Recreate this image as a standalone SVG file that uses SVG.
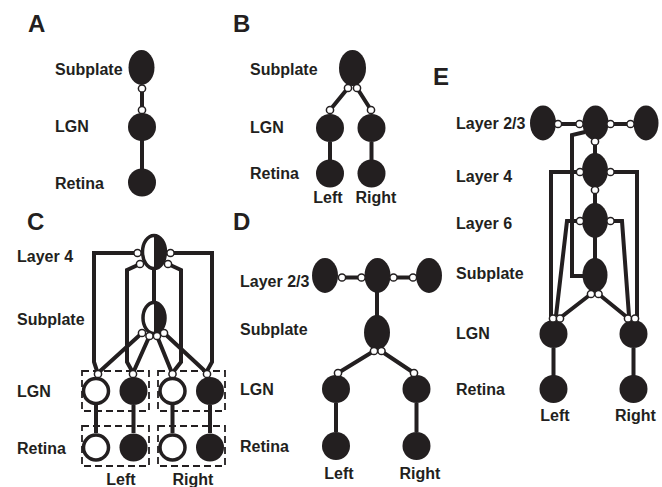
<svg xmlns="http://www.w3.org/2000/svg" width="662" height="487" viewBox="0 0 662 487">
<style>
.n{fill:#231f20}
.o{fill:#fff;stroke:#231f20;stroke-width:3.5}
.s{fill:#fff;stroke:#231f20;stroke-width:1.5}
.c{fill:none;stroke:#231f20;stroke-width:4;stroke-linejoin:miter}
.b{fill:none;stroke:#231f20;stroke-width:1.8;stroke-dasharray:7 4}
text{font-family:"Liberation Sans",Arial,sans-serif;font-weight:bold;fill:#231f20}
.l{font-size:16px}
.m{font-size:16px;text-anchor:middle}
.p{font-size:24px}
</style>
<rect width="662" height="487" fill="#fff"/>

<!-- panel letters and labels -->
<g id="labels">
<text class="p" x="28" y="32">A</text>
<text class="p" x="233" y="32">B</text>
<text class="p" x="27" y="230">C</text>
<text class="p" x="233" y="230">D</text>
<text class="p" x="433" y="85">E</text>

<text class="l" x="55" y="75">Subplate</text>
<text class="l" x="55" y="132">LGN</text>
<text class="l" x="55" y="189">Retina</text>

<text class="l" x="250" y="75">Subplate</text>
<text class="l" x="250" y="133">LGN</text>
<text class="l" x="250" y="179">Retina</text>
<text class="m" x="328" y="203">Left</text>
<text class="m" x="376" y="203">Right</text>

<text class="l" x="17" y="262">Layer 4</text>
<text class="l" x="17" y="325">Subplate</text>
<text class="l" x="17" y="397">LGN</text>
<text class="l" x="17" y="454">Retina</text>
<text class="m" x="121" y="485">Left</text>
<text class="m" x="193" y="485">Right</text>

<text class="l" x="240" y="287">Layer 2/3</text>
<text class="l" x="240" y="335">Subplate</text>
<text class="l" x="240" y="395">LGN</text>
<text class="l" x="240" y="452">Retina</text>
<text class="m" x="339" y="479">Left</text>
<text class="m" x="420" y="479">Right</text>

<text class="l" x="456" y="129">Layer 2/3</text>
<text class="l" x="456" y="182">Layer 4</text>
<text class="l" x="456" y="229">Layer 6</text>
<text class="l" x="456" y="279">Subplate</text>
<text class="l" x="456" y="339">LGN</text>
<text class="l" x="456" y="395">Retina</text>
<text class="m" x="555" y="421">Left</text>
<text class="m" x="635.5" y="421">Right</text>
</g>

<!-- dashed boxes (panel C) -->
<g id="boxes">
<rect class="b" x="82" y="371" width="67" height="40"/>
<rect class="b" x="158" y="371" width="67" height="40"/>
<rect class="b" x="82" y="426" width="67" height="40"/>
<rect class="b" x="158" y="426" width="67" height="40"/>
</g>

<!-- connectors -->
<g id="connectors">
<!-- A -->
<path class="c" d="M142 88V110M142 140V169"/>
<!-- B -->
<path class="c" d="M348 88L330 110M357 88L371 110M330 142V160M371.5 142V160"/>
<!-- C -->
<path class="c" d="M94 253H214M94 251V362L97 371M212 251V362L207 371"/>
<path class="c" d="M140 264L127 270V362L132 371M168 264L181 270V362L174 371"/>
<path class="c" d="M154 269V302"/>
<path class="c" d="M142 333L98 373M149.5 336L133 373M157 336L172 373M164 333L207 373"/>
<path class="c" d="M96 405V433M133.5 405V433M172.5 405V433M210 405V433"/>
<!-- D -->
<path class="c" d="M342 277.5H361.5M393.5 277.5H413M377 292V316M374 351L338 373M381 351L414 373M336 403V432M416.5 403V432"/>
<!-- E -->
<path class="c" d="M557 124H579.5M610.5 124H631M595 140V154M595 187V204M595 237V259"/>
<path class="c" d="M585 132L572 135V276H584"/>
<path class="c" d="M580 172H551V316L553 318M610.5 172H637V316L635 318"/>
<path class="c" d="M580 221H567L556 316M610.5 221H622L629 316"/>
<path class="c" d="M591 294L560 318M598.5 294L628 318"/>
<path class="c" d="M553.5 348V376M633.5 348V376"/>
</g>

<!-- nodes -->
<g id="A-subplate"><ellipse class="n" cx="141.5" cy="67.5" rx="13" ry="17.5"/></g>
<g id="A-lgn"><circle class="n" cx="142" cy="127" r="14"/></g>
<g id="A-retina"><circle class="n" cx="142" cy="182.5" r="14"/></g>

<g id="B-subplate"><ellipse class="n" cx="352.5" cy="68" rx="13.5" ry="18"/></g>
<g id="B-lgn-left"><circle class="n" cx="330" cy="128" r="14"/></g>
<g id="B-lgn-right"><circle class="n" cx="371.5" cy="128" r="14"/></g>
<g id="B-retina-left"><circle class="n" cx="330" cy="173.5" r="14"/></g>
<g id="B-retina-right"><circle class="n" cx="371.5" cy="173.5" r="14"/></g>

<g id="C-layer4"><ellipse class="o" cx="154" cy="252" rx="11.5" ry="16.5"/><path class="n" d="M154 235.5A11.5 16.5 0 0 1 154 268.5Z"/></g>
<g id="C-subplate"><ellipse class="o" cx="154" cy="318" rx="11" ry="15.5"/><path class="n" d="M154 302.5A11 15.5 0 0 1 154 333.5Z"/></g>
<g id="C-lgn-left-open"><circle class="o" cx="96" cy="391" r="12.5"/></g>
<g id="C-lgn-left-filled"><circle class="n" cx="133.5" cy="391" r="14"/></g>
<g id="C-lgn-right-open"><circle class="o" cx="172.5" cy="391" r="12.5"/></g>
<g id="C-lgn-right-filled"><circle class="n" cx="210" cy="391" r="14"/></g>
<g id="C-retina-left-open"><circle class="o" cx="96" cy="447.5" r="12.5"/></g>
<g id="C-retina-left-filled"><circle class="n" cx="133.5" cy="447.5" r="14"/></g>
<g id="C-retina-right-open"><circle class="o" cx="172.5" cy="447.5" r="12.5"/></g>
<g id="C-retina-right-filled"><circle class="n" cx="210" cy="447.5" r="14"/></g>

<g id="D-l23-left"><ellipse class="n" cx="325" cy="275.5" rx="13" ry="17.5"/></g>
<g id="D-l23-center"><ellipse class="n" cx="377.5" cy="275.5" rx="13" ry="17.5"/></g>
<g id="D-l23-right"><ellipse class="n" cx="429" cy="275.5" rx="13" ry="17.5"/></g>
<g id="D-subplate"><ellipse class="n" cx="377" cy="332.5" rx="13" ry="17.5"/></g>
<g id="D-lgn-left"><circle class="n" cx="336" cy="389" r="14"/></g>
<g id="D-lgn-right"><circle class="n" cx="416.5" cy="389" r="14"/></g>
<g id="D-retina-left"><circle class="n" cx="336" cy="446" r="14"/></g>
<g id="D-retina-right"><circle class="n" cx="416.5" cy="446" r="14"/></g>

<g id="E-l23-left"><ellipse class="n" cx="543" cy="123" rx="13" ry="17.5"/></g>
<g id="E-l23-center"><ellipse class="n" cx="595.5" cy="123" rx="13" ry="17.5"/></g>
<g id="E-l23-right"><ellipse class="n" cx="646" cy="123" rx="12.5" ry="17.5"/></g>
<g id="E-layer4"><ellipse class="n" cx="595" cy="170.5" rx="13" ry="17.5"/></g>
<g id="E-layer6"><ellipse class="n" cx="595" cy="220.5" rx="13" ry="17.5"/></g>
<g id="E-subplate"><ellipse class="n" cx="595" cy="275" rx="12.5" ry="17"/></g>
<g id="E-lgn-left"><circle class="n" cx="553.5" cy="334" r="14"/></g>
<g id="E-lgn-right"><circle class="n" cx="633.5" cy="334" r="14"/></g>
<g id="E-retina-left"><circle class="n" cx="553.5" cy="389" r="14"/></g>
<g id="E-retina-right"><circle class="n" cx="633.5" cy="389" r="14"/></g>

<!-- synapse terminals -->
<g id="synapses">
<circle class="s" cx="142" cy="88.5" r="3.6"/>
<circle class="s" cx="142" cy="110" r="3.6"/>

<circle class="s" cx="348" cy="88" r="3.6"/>
<circle class="s" cx="357" cy="88" r="3.6"/>
<circle class="s" cx="330" cy="110" r="3.6"/>
<circle class="s" cx="371" cy="110" r="3.6"/>

<circle class="s" cx="137.5" cy="253" r="3.6"/>
<circle class="s" cx="170.5" cy="253" r="3.6"/>
<circle class="s" cx="140" cy="264" r="3.6"/>
<circle class="s" cx="168" cy="264" r="3.6"/>
<circle class="s" cx="142" cy="333" r="3.6"/>
<circle class="s" cx="149.5" cy="336" r="3.6"/>
<circle class="s" cx="157" cy="336" r="3.6"/>
<circle class="s" cx="164" cy="333" r="3.6"/>
<circle class="s" cx="98" cy="374" r="3.6"/>
<circle class="s" cx="133" cy="374" r="3.6"/>
<circle class="s" cx="172.5" cy="374" r="3.6"/>
<circle class="s" cx="207" cy="374" r="3.6"/>

<circle class="s" cx="342" cy="277.5" r="3.6"/>
<circle class="s" cx="361.5" cy="277.5" r="3.6"/>
<circle class="s" cx="393.5" cy="277.5" r="3.6"/>
<circle class="s" cx="413" cy="277.5" r="3.6"/>
<circle class="s" cx="374" cy="351" r="3.6"/>
<circle class="s" cx="381.5" cy="351" r="3.6"/>
<circle class="s" cx="338" cy="373" r="3.6"/>
<circle class="s" cx="414" cy="373" r="3.6"/>

<circle class="s" cx="558" cy="124" r="3.6"/>
<circle class="s" cx="579.5" cy="124" r="3.6"/>
<circle class="s" cx="610.5" cy="124" r="3.6"/>
<circle class="s" cx="630.5" cy="124" r="3.6"/>
<circle class="s" cx="595" cy="141.5" r="3.6"/>
<circle class="s" cx="580" cy="172" r="3.6"/>
<circle class="s" cx="610.5" cy="172" r="3.6"/>
<circle class="s" cx="595" cy="190" r="3.6"/>
<circle class="s" cx="580" cy="221" r="3.6"/>
<circle class="s" cx="610.5" cy="221" r="3.6"/>
<circle class="s" cx="591" cy="294" r="3.6"/>
<circle class="s" cx="598.5" cy="294" r="3.6"/>
<circle class="s" cx="553" cy="318.5" r="3.6"/>
<circle class="s" cx="560" cy="318.5" r="3.6"/>
<circle class="s" cx="628" cy="318.5" r="3.6"/>
<circle class="s" cx="635" cy="318.5" r="3.6"/>
</g>
</svg>
